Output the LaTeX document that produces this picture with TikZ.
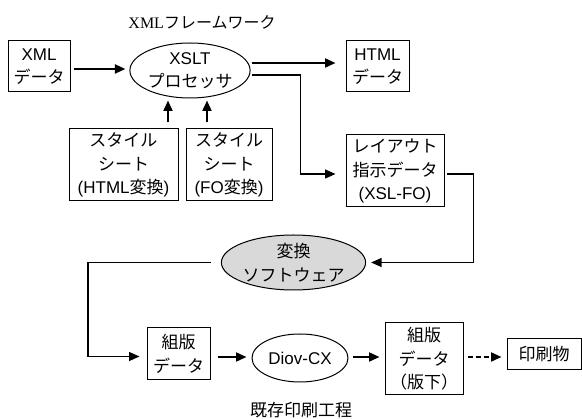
\documentclass[tikz,border=0pt]{standalone}
\usepackage{fontspec}
\setmainfont{Liberation Sans}
\newfontfamily\jpfont{Noto Sans CJK JP}
\newfontfamily\titleserif{Liberation Serif}
\newcommand\J[1]{{\jpfont #1}}
\usetikzlibrary{shapes.geometric,arrows.meta}
\begin{document}
\begin{tikzpicture}[x=1pt,y=-1pt,
  txt/.style={font=\fontsize{17}{23.5}\selectfont, align=center, inner sep=0pt},
  box/.style={txt, draw, line width=1pt, rectangle},
  oval/.style={txt, draw, line width=1pt, ellipse},
  arr/.style={line width=2pt, -{Triangle[length=10.5pt,width=9pt]}},
  link/.style={line width=1.4pt, -{Triangle[length=10.5pt,width=9pt]}}]
\useasboundingbox (0,0) rectangle (582,419);

% upper part: XML framework
\node[txt, font=\fontsize{16}{20}\selectfont] (title) at (202,22) {{\titleserif XML}\J{フレームワーク}};
\node[box, minimum width=62pt, minimum height=51pt] (xml) at (39,66.5) {XML\\\J{データ}};
\node[oval, minimum width=110pt, minimum height=55pt] (xslt) at (190,70.5) {XSLT\\\J{プロセッサ}};
\node[box, minimum width=109pt, minimum height=72pt] (s1) at (123.5,165) {\J{スタイル}\\\J{シート}\\(HTML\J{変換})};
\node[box, minimum width=86pt, minimum height=72pt] (s2) at (229,165) {\J{スタイル}\\\J{シート}\\(FO\J{変換})};
\node[box, minimum width=63pt, minimum height=51pt] (html) at (377.5,66.5) {HTML\\\J{データ}};
\node[box, minimum width=98pt, minimum height=72pt] (layout) at (395,171) {\J{レイアウト}\\\J{指示データ}\\(XSL-FO)};

% conversion software
\node[oval, fill=black!15, minimum width=117pt, minimum height=55pt] (conv) at (293.5,262.5) {\J{変換}\\\J{ソフトウェア}};

% lower part: existing printing process
\node[box, minimum width=63pt, minimum height=52pt] (k1) at (178.5,354) {\J{組版}\\\J{データ}};
\node[oval, minimum width=96pt, minimum height=48pt] (diov) at (300,358) {Diov-CX};
\node[box, minimum width=78pt, minimum height=72pt] (k2) at (424,359) {\J{組版}\\\J{データ}\\\J{（版下）}};
\node[box, minimum width=74pt, minimum height=31pt] (print) at (544,354.5) {\J{印刷物}};
\node[txt] (caption) at (301,410) {\J{既存印刷工程}};

% connectors
\draw[arr, shorten <=3pt, shorten >=4pt] ([yshift=-2.5pt]xml.east) coordinate (a0) -- (a0 -| xslt.west);
\draw[arr, shorten <=6pt, shorten >=2pt] ([xshift=44.5pt]s1.north) coordinate (u1) -- (u1 |- xslt.south);
\draw[arr, shorten <=6pt, shorten >=2pt] ([xshift=-22pt]s2.north) coordinate (u2) -- (u2 |- xslt.south);
\draw[arr, shorten <=1pt, shorten >=10pt] ([yshift=7.5pt]xslt.east) coordinate (a1) -- (a1 -| html.west);
\draw[link, shorten <=1pt, shorten >=10pt] ([yshift=-4.5pt]xslt.east) coordinate (a2) -- ++(50,0) |- ([yshift=-3pt]layout.west);
\draw[link, shorten <=2pt, shorten >=5pt] ([yshift=-3pt]layout.east) -- ++(29,0) |- (conv.east);
\draw[link, shorten <=10pt, shorten >=7pt] (conv.west) -- ++(-133,0) |- ([yshift=-2.5pt]k1.west);
\draw[arr, shorten <=7pt, shorten >=5pt] ([yshift=-3pt]k1.east) coordinate (b1) -- (b1 -| diov.west);
\draw[arr, shorten <=4pt, shorten >=5pt] ([yshift=1pt]diov.east) coordinate (b2) -- (b2 -| k2.west);
\draw[line width=2pt, dash pattern=on 5pt off 3pt, -{Triangle[length=10.5pt,width=9pt]}, shorten <=4pt, shorten >=5pt] ([yshift=-2.5pt]print.west -| k2.east) -- ([yshift=-2.5pt]print.west);
\end{tikzpicture}
\end{document}
